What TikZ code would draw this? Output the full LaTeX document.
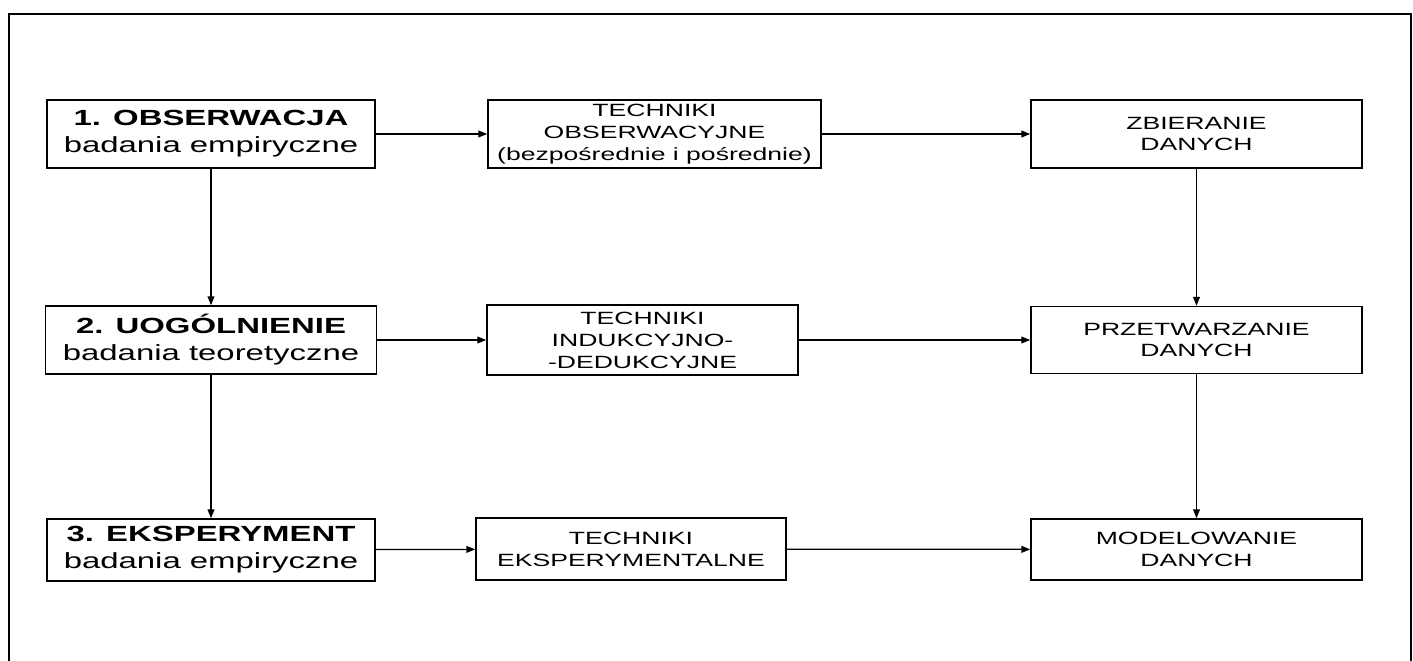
\documentclass[tikz,border=0pt]{standalone}
\usepackage{fontspec}
\setmainfont[FakeStretch=1.5]{Liberation Sans}
\usetikzlibrary{arrows.meta}

\begin{document}
\begin{tikzpicture}[
    x=0.025cm, y=-0.025cm,
    >={Triangle[length=2.2mm,width=1.7mm]},
    method/.style={draw, line width=1.1pt, align=center, inner sep=0pt,
                   font=\fontsize{15.6}{19.2}\selectfont,
                   minimum width=8.2cm, minimum height=1.7cm},
    technique/.style={draw, line width=1.1pt, align=center, inner sep=0pt,
                      font=\fontsize{12.6}{15.6}\selectfont,
                      minimum height=1.7cm},
    datastep/.style={technique, minimum width=8.275cm},
    link/.style={->, line width=0.9pt},
]
\useasboundingbox (0,0) rectangle (1413,661);

% outer frame (its bottom edge lies below the page)
\draw[line width=1.1pt] (9,680) -- (9,14) -- (1411,14) -- (1411,680);

% left column
\node[method]                        (obs)    at (211,134) {\textbf{1. OBSERWACJA}\\badania empiryczne};
\node[method, minimum width=8.275cm] (uog)    at (211,340) {\textbf{2. UOGÓLNIENIE}\\badania teoretyczne};
\node[method, minimum height=1.55cm] (eksp)   at (211,550) {\textbf{3. EKSPERYMENT}\\badania empiryczne};

% middle column
\node[technique, minimum width=8.325cm] (tobs)  at (654.5,134) {TECHNIKI\\OBSERWACYJNE\\(bezpośrednie i pośrednie)};
\node[technique, minimum width=7.775cm, minimum height=1.75cm]
                                        (tind)  at (642.5,340) {TECHNIKI\\INDUKCYJNO-\\-DEDUKCYJNE};
\node[technique, minimum width=7.75cm, minimum height=1.55cm]
                                        (teksp) at (631,549) {TECHNIKI\\EKSPERYMENTALNE};

% right column
\node[datastep]                          (zbier)  at (1196.5,134) {ZBIERANIE\\DANYCH};
\node[datastep, minimum height=1.675cm]  (przetw) at (1196.5,340) {PRZETWARZANIE\\DANYCH};
\node[datastep, minimum height=1.525cm]  (model)  at (1196.5,549.5) {MODELOWANIE\\DANYCH};

\draw[link] (obs)   -- (tobs);
\draw[link] (tobs)  -- (zbier);
\draw[link] (uog)   -- (tind);
\draw[link] (tind)  -- (przetw);
\draw[link] (eksp)  -- (teksp);
\draw[link] (teksp) -- (model);

\draw[link] (obs)    -- (uog);
\draw[link] (uog)    -- (eksp);
\draw[link] (zbier)  -- (przetw);
\draw[link] (przetw) -- (model);

\end{tikzpicture}
\end{document}
